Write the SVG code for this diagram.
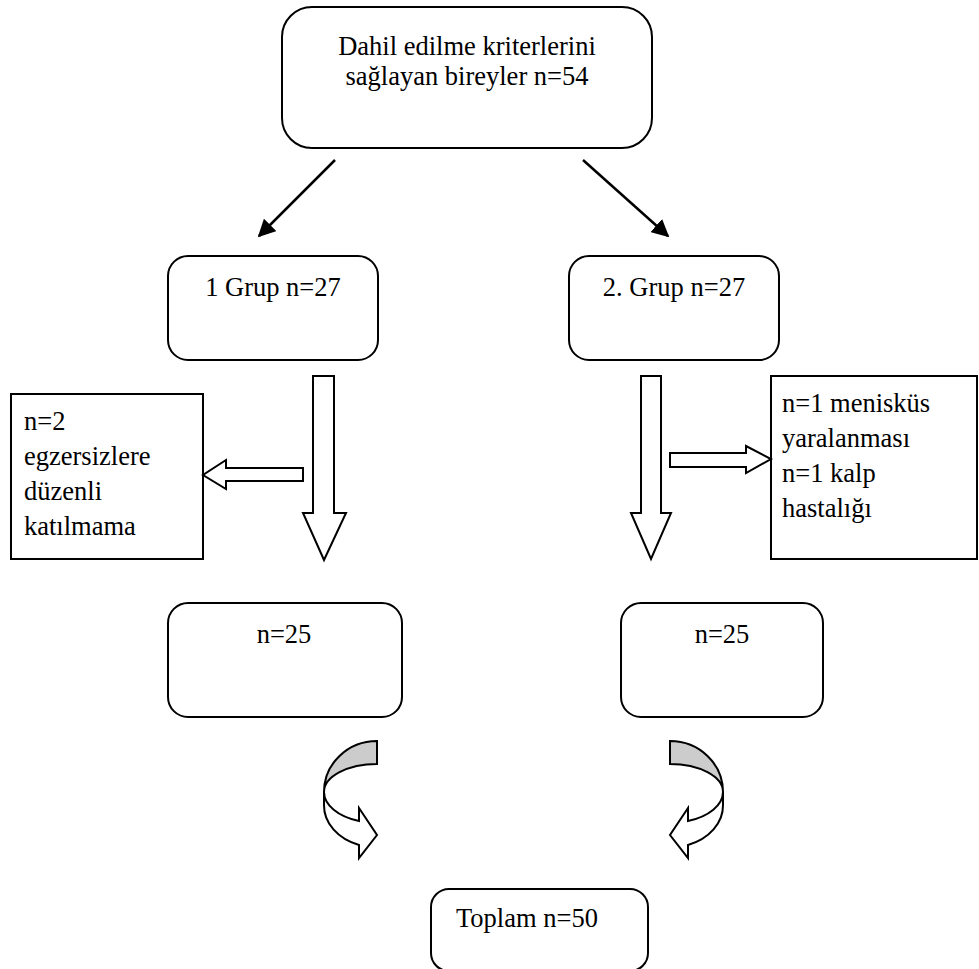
<svg xmlns="http://www.w3.org/2000/svg" width="979" height="969" viewBox="0 0 979 969">
<defs>
<style>
.box{fill:#fff;stroke:#000;stroke-width:2}
.blk{fill:#fff;stroke:#000;stroke-width:2;stroke-linejoin:miter}
.crv{stroke:#000;stroke-width:2;stroke-linejoin:miter}
.ln{stroke:#000;stroke-width:2.5;fill:none}
text{font-family:"Liberation Serif","Times New Roman",serif;font-size:26.5px;fill:#000}
.c{text-anchor:middle}
</style>
<marker id="ah" viewBox="0 0 10 10" refX="9" refY="5" markerWidth="7" markerHeight="7" markerUnits="strokeWidth" orient="auto">
<path d="M0,0 L10,5 L0,10 Z" fill="#000"/>
</marker>
<g id="curved">
<path class="crv" fill="#cccccc" d="M377,741 A53,51 0 0 0 324,792 A53,28 0 0 1 377,764 Z"/>
<path class="crv" fill="#fff" d="M324,792 L324,805 A53,42 0 0 0 359,845 L359,858 L377,835 L359,808 L359,821 A53,31 0 0 1 324,792 Z"/>
</g>
</defs>
<g id="n-top"><rect class="box" x="282" y="7" width="370" height="141" rx="30"/><text class="c" x="467" y="55">Dahil edilme kriterlerini</text><text class="c" x="467" y="85">sağlayan bireyler n=54</text></g>
<g id="n-g1"><rect class="box" x="168" y="256" width="210" height="104" rx="20"/><text class="c" x="273" y="296">1 Grup n=27</text></g>
<g id="n-g2"><rect class="box" x="569" y="256" width="210" height="104" rx="20"/><text class="c" x="674" y="296">2. Grup n=27</text></g>
<g id="n-ex1"><rect class="box" x="11" y="394" width="192" height="165"/><text x="24" y="430">n=2</text><text x="24" y="465">egzersizlere</text><text x="24" y="500">düzenli</text><text x="24" y="535">katılmama</text></g>
<g id="n-ex2"><rect class="box" x="771" y="376" width="206" height="183"/><text x="782" y="412">n=1 menisküs</text><text x="782" y="447">yaralanması</text><text x="782" y="482">n=1 kalp</text><text x="782" y="517">hastalığı</text></g>
<g id="n-25a"><rect class="box" x="168" y="603" width="234" height="114" rx="20"/><text class="c" x="284" y="643">n=25</text></g>
<g id="n-25b"><rect class="box" x="621" y="603" width="202" height="114" rx="20"/><text class="c" x="722" y="643">n=25</text></g>
<g id="n-total"><rect class="box" x="431" y="889" width="217" height="82" rx="18"/><text x="456" y="927">Toplam n=50</text></g>
<g id="connectors">
<line class="ln" x1="335" y1="160" x2="259" y2="236" marker-end="url(#ah)"/>
<line class="ln" x1="583" y1="160" x2="668" y2="236" marker-end="url(#ah)"/>
<path class="blk" d="M313,376 L334,376 L334,513 L346,513 L324,560 L303,513 L313,513 Z"/>
<path class="blk" d="M303,468 L303,481 L226,481 L226,489 L203,475 L226,460 L226,468 Z"/>
<path class="blk" d="M641,376 L661,376 L661,513 L671,513 L651,559 L631,513 L641,513 Z"/>
<path class="blk" d="M670,453 L746,453 L746,446 L771,459 L746,473 L746,467 L670,467 Z"/>
<use href="#curved"/>
<use href="#curved" transform="translate(1047,0) scale(-1,1)"/>
</g>
</svg>
